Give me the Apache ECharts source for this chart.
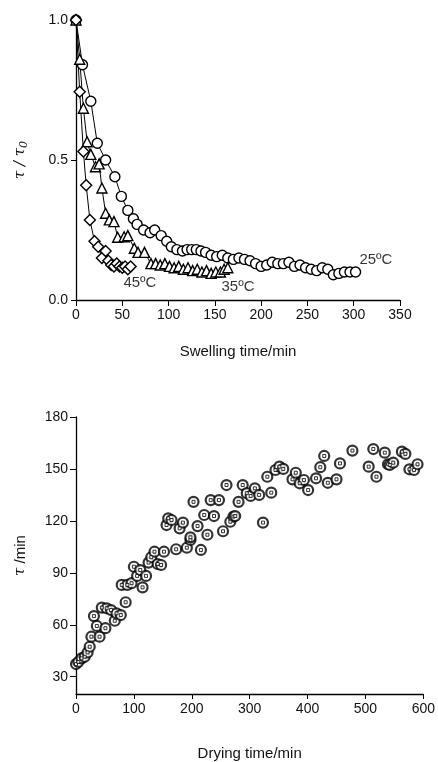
<!DOCTYPE html>
<html>
<head>
<meta charset="utf-8">
<script src="https://cdn.jsdelivr.net/npm/echarts@6/dist/echarts.min.js"></script>
<style>
  html, body { margin: 0; padding: 0; background: #fff; }
  #chart { width: 438px; height: 762px; }
</style>
</head>
<body>
<div id="chart"></div>
<script>
// swelling curves (tau/tau0 vs min)
var t25 = [0,7,16,23,32,42,49,56,62,66,73,80,85,92,98,103,109,115,120,125,130,135,140,146,152,158,164,170,176,182,188,194,200,206,212,218,224,230,236,242,248,254,260,266,272,278,284,290,296,302];
var v25 = [1.0,0.84,0.71,0.56,0.50,0.44,0.37,0.32,0.29,0.27,0.25,0.24,0.25,0.23,0.21,0.19,0.18,0.175,0.18,0.18,0.18,0.175,0.17,0.16,0.155,0.16,0.15,0.145,0.15,0.145,0.14,0.13,0.12,0.125,0.135,0.13,0.13,0.135,0.12,0.125,0.115,0.11,0.105,0.115,0.11,0.09,0.095,0.1,0.1,0.1];
var t35 = [0,4,8,12,16,21,25,28,32,36,41,45,52,56,63,67,74,81,86,91,96,101,106,111,116,121,126,131,136,141,146,151,156,160,164];
var v35 = [1.0,0.86,0.685,0.565,0.52,0.476,0.486,0.40,0.31,0.286,0.28,0.224,0.226,0.23,0.185,0.17,0.17,0.13,0.13,0.125,0.13,0.12,0.115,0.12,0.11,0.115,0.105,0.11,0.1,0.105,0.095,0.1,0.1,0.11,0.115];
var t45 = [0,4,8,11,15,20,24,28,32,35,38,41,44,47,50,53,56,59];
var v45 = [1.0,0.744,0.53,0.41,0.286,0.21,0.19,0.15,0.175,0.14,0.125,0.12,0.13,0.12,0.115,0.12,0.11,0.12];

// drying time vs tau
var dryX = [0,4,9.6,15,20,23.7,26.6,31,36,40.7,44.6,50.8,53,60.5,67,70,77.4,79,85.8,88.7,96,100,105.6,111,115,121,125.4,130,135.6,141,147,152,156.4,159.3,165,173,179,184.7,191.5,197.7,197.7,203,210,215.8,221.5,227,232.7,238.4,247,254,260,266.6,272,275,280.8,288,295,301.7,309,316.4,323,330.5,337.3,344.6,351.4,358,374,379.7,386.4,393.7,401,414.7,422,428.8,435,450,456,477.5,505.6,513.6,519,533.4,539,542,548,563,569,576,584,590];
var dryY = [37.3,38.5,40.6,41.5,44,47.3,53.1,65,59.3,53.1,69.9,58,69.5,68.5,62.3,66.6,65.6,83,73,83,84,93.5,88.2,91.6,81.6,88.2,95.9,99,102.2,95.1,94.5,102.2,117.6,121.5,120.5,103.6,115.7,119,104.5,109,110.5,131,117,103.2,123.4,112,132,122.8,132,114,140.7,119.5,122.5,122.8,131,140.7,136,134.4,138.8,135,119,145.5,136.3,149.4,151.3,150,144,147.8,141.7,143.6,137.8,144.6,151,157.5,142,144,153.2,160.6,151.3,161.5,145.5,159.4,152.7,152.3,153.6,160,158.7,149.8,149.4,152.7];

var botYTicks = [30,60,90,120,150,180];

function pairs(xs, ys){
  var out = [];
  for (var i=0; i<xs.length; i++){
    out.push([xs[i], ys[i]]);
  }
  return out;
}

var font = 'Liberation Sans, Arial, sans-serif';
var axisLabelStyle = {color:'#111', fontSize:14, fontFamily:font};

function curve(name, xs, ys, symbol, size){
  return {
    name: name, type:'line', xAxisIndex:0, yAxisIndex:0,
    data: pairs(xs, ys),
    symbol: symbol, symbolSize: size,
    showAllSymbol: true,
    lineStyle:{color:'#000', width:1},
    itemStyle:{color:'#fff', borderColor:'#000', borderWidth:1.4},
    z: 3
  };
}

var tempLabels = [
  {text:'25ºC', coord:[324, 0.145]},
  {text:'35ºC', coord:[175, 0.048]},
  {text:'45ºC', coord:[69, 0.06]}
];

var myChart = echarts.init(document.getElementById('chart'));

var option = {
  animation:false,
  backgroundColor:'#fff',
  grid:[
    {left:76, top:20, width:324, height:280},
    {left:76, top:417, width:354, height:277}
  ],
  xAxis:[
    {
      gridIndex:0, type:'value', min:0, max:350, interval:50,
      name:'Swelling time/min', nameLocation:'middle', nameGap:44,
      nameTextStyle:{color:'#111', fontSize:15, fontFamily:font},
      axisLine:{lineStyle:{color:'#000', width:1.3}},
      axisTick:{show:true, length:6, lineStyle:{color:'#000'}},
      axisLabel:axisLabelStyle,
      splitLine:{show:false}
    },
    {
      gridIndex:1, type:'value', min:0, max:600, interval:100,
      name:'Drying time/min', nameLocation:'middle', nameGap:52,
      nameTextStyle:{color:'#111', fontSize:15, fontFamily:font},
      axisLine:{lineStyle:{color:'#000', width:1.3}},
      axisTick:{show:true, length:5, lineStyle:{color:'#000'}},
      axisLabel:axisLabelStyle,
      splitLine:{show:false}
    }
  ],
  yAxis:[
    {
      gridIndex:0, type:'value', min:0, max:1, interval:0.5,
      name:'{t|τ / τ}{s|0}', nameLocation:'middle', nameGap:46,
      nameTextStyle:{rich:{
        t:{fontSize:15, fontStyle:'italic', fontFamily:'DejaVu Serif, serif', color:'#111'},
        s:{fontSize:11, fontStyle:'italic', fontFamily:'DejaVu Serif, serif', color:'#111', verticalAlign:'bottom', padding:[8,0,0,0]}
      }},
      axisLine:{show:true, lineStyle:{color:'#000', width:1.3}},
      axisTick:{show:true, length:5, lineStyle:{color:'#000'}},
      axisLabel:{color:'#111', fontSize:14, fontFamily:font, formatter:function(v){return v.toFixed(1);}},
      splitLine:{show:false}
    },
    {
      gridIndex:1, type:'value', min:20, max:180,
      name:'{t|τ}{m| /min}', nameLocation:'middle', nameGap:48,
      nameTextStyle:{rich:{
        t:{fontSize:15, fontStyle:'italic', fontFamily:'DejaVu Serif, serif', color:'#111'},
        m:{fontSize:15, fontFamily:font, color:'#111'}
      }},
      axisLine:{show:true, lineStyle:{color:'#000', width:1.3}},
      axisTick:{show:true, length:6, customValues:botYTicks, lineStyle:{color:'#000'}},
      axisLabel:{color:'#111', fontSize:14, fontFamily:font, customValues:botYTicks},
      splitLine:{show:false}
    }
  ],
  series:[
    curve('25', t25, v25, 'circle', 10),
    curve('35', t35, v35, 'triangle', 10),
    curve('45', t45, v45, 'diamond', 11),
    {
      name:'labels', type:'scatter', xAxisIndex:0, yAxisIndex:0,
      data: tempLabels.map(function(d){ return {value:d.coord, label:{formatter:d.text}}; }),
      symbolSize:0,
      silent:true,
      label:{show:true, position:'inside', color:'#000', textBorderWidth:0, fontSize:15, fontFamily:font},
      z:5
    },
    {
      name:'dry', type:'scatter', xAxisIndex:1, yAxisIndex:1,
      data: pairs(dryX, dryY),
      symbol:'circle', symbolSize:10,
      itemStyle:{color:'#fff', borderColor:'#000', borderWidth:2.2},
      z:3
    },
    {
      name:'dryCore', type:'scatter', xAxisIndex:1, yAxisIndex:1,
      data: pairs(dryX, dryY),
      symbol:'rect', symbolSize:3,
      itemStyle:{color:'#fff', borderColor:'#000', borderWidth:1},
      z:4
    }
  ]
};

myChart.setOption(option);
</script>
</body>
</html>
